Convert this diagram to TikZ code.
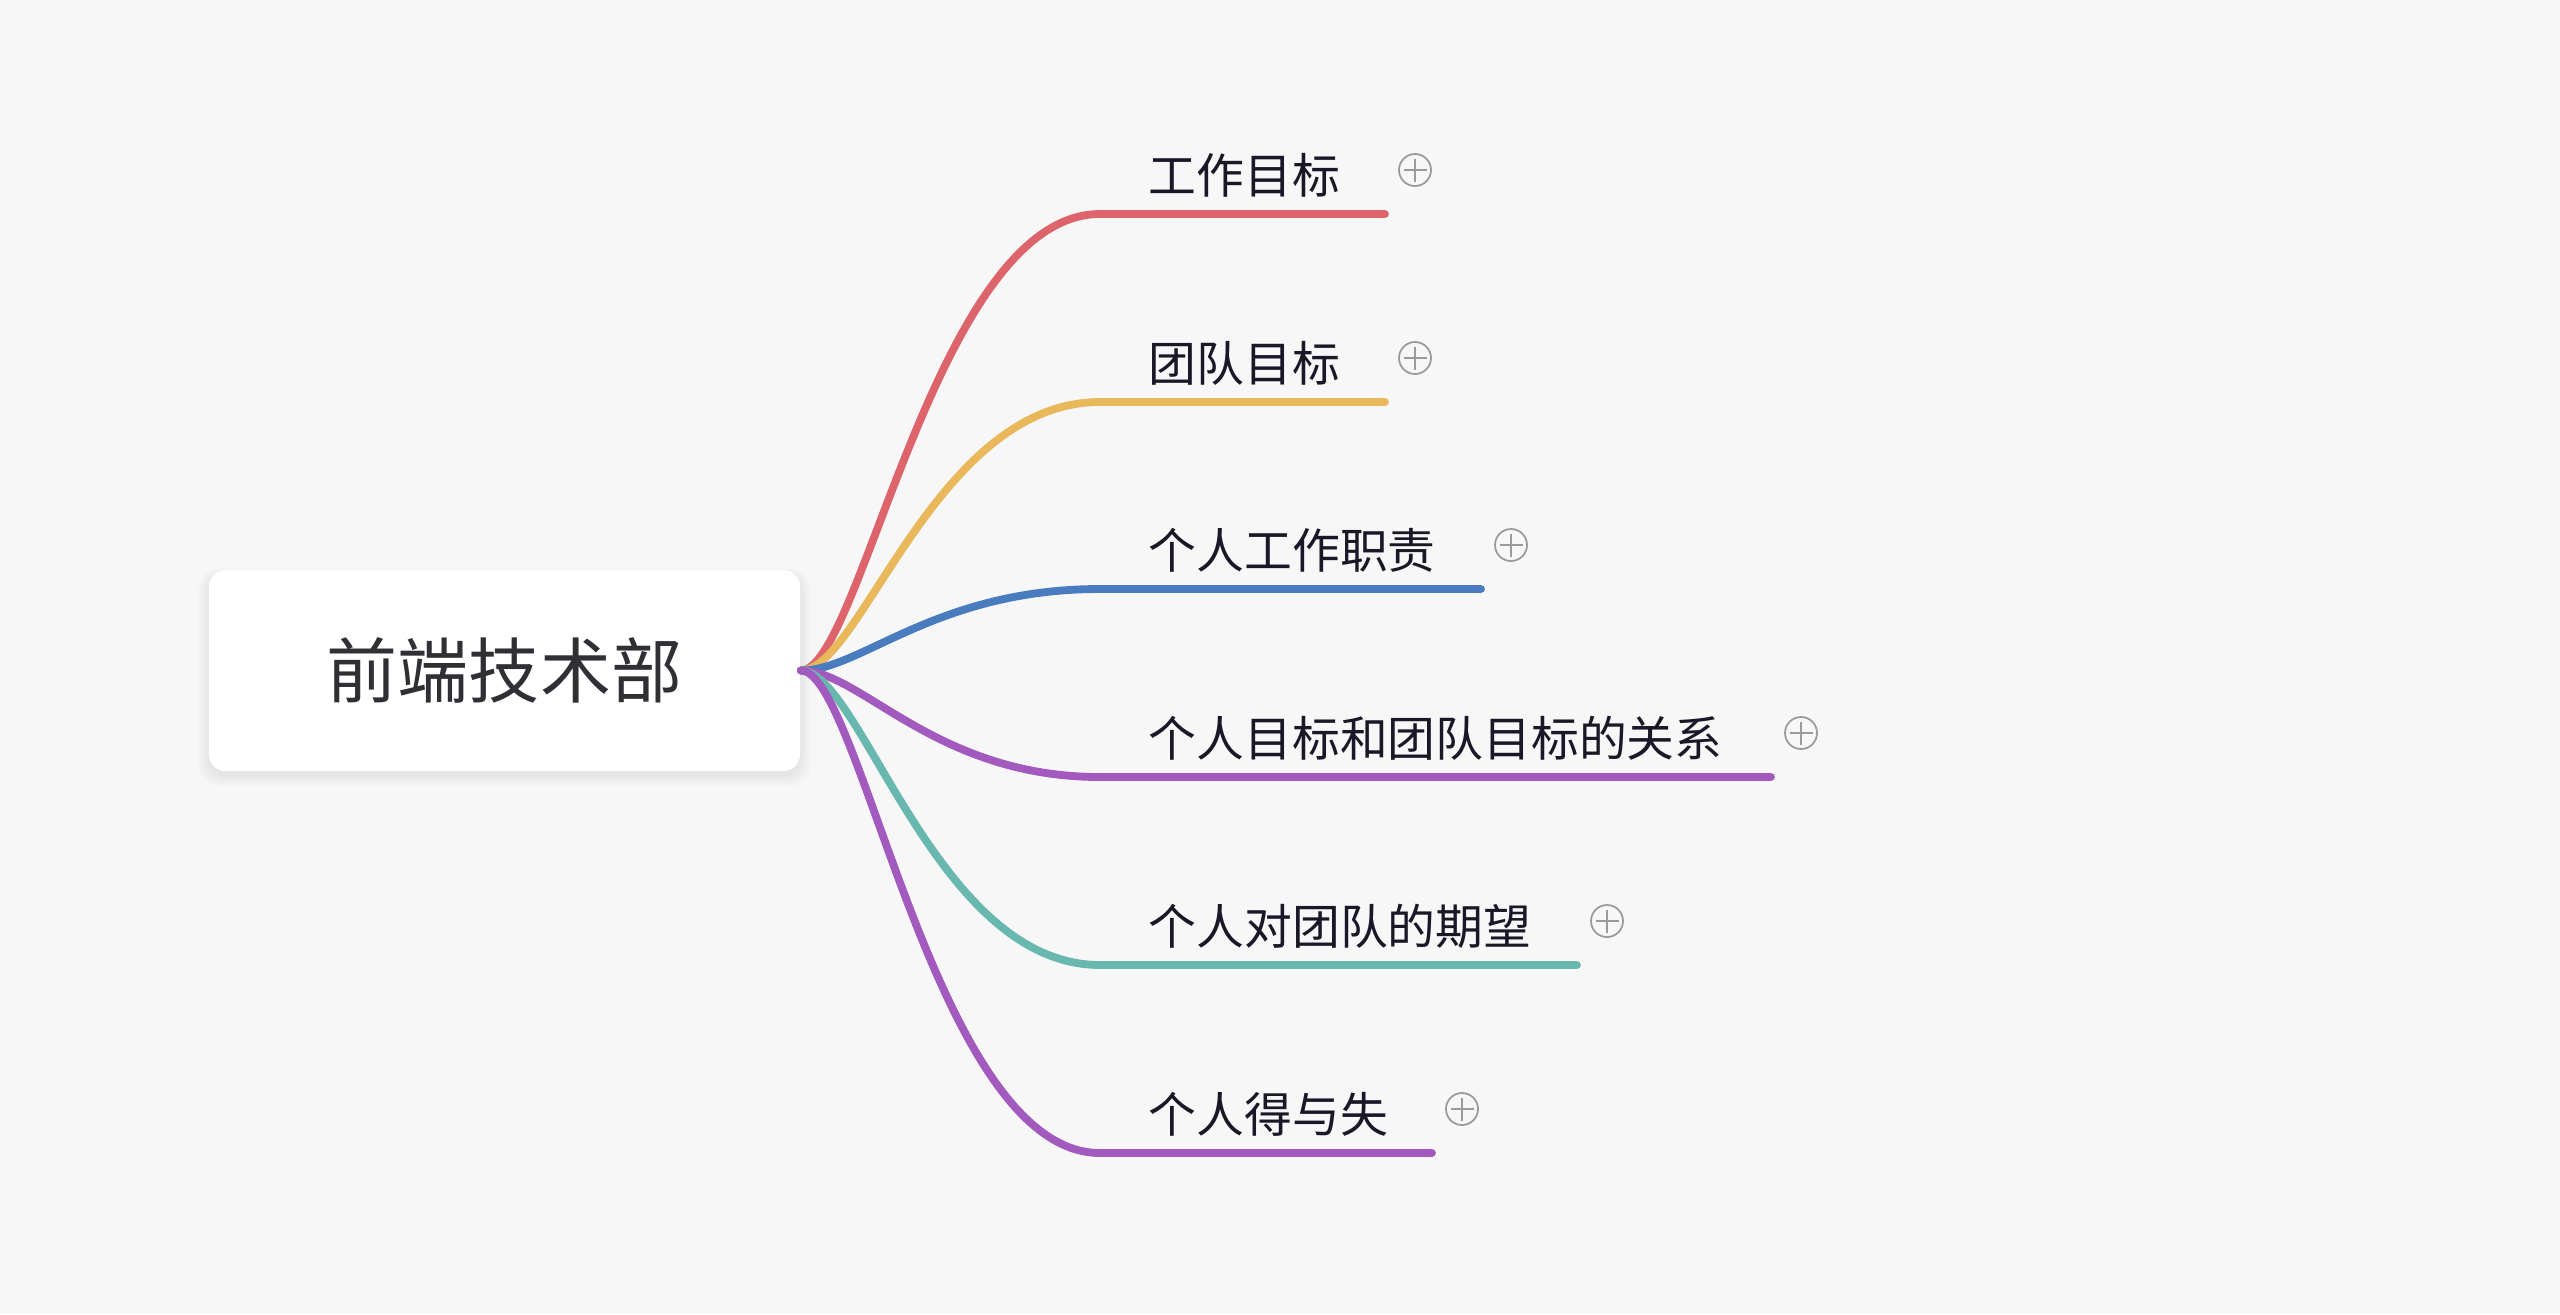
\documentclass[tikz,border=0pt]{standalone}
\usepackage{fontspec}
\newfontfamily\cjk{Noto Sans CJK SC}
\usetikzlibrary{calc}
\definecolor{bg}{RGB}{247,247,248}
\definecolor{cRed}{RGB}{220,100,106}
\definecolor{cYellow}{RGB}{232,184,90}
\definecolor{cBlue}{RGB}{72,124,190}
\definecolor{cPurple}{RGB}{162,90,190}
\definecolor{cTeal}{RGB}{105,184,176}
\definecolor{txt}{RGB}{24,24,38}
\definecolor{roottxt}{RGB}{48,48,52}
\definecolor{icongray}{RGB}{155,155,155}
\tikzset{
  rootbox/.style={rectangle, rounded corners=0.17cm, fill=white, minimum width=5.91cm, minimum height=2.01cm, inner sep=0pt, text=roottxt, font=\cjk\fontsize{20.2}{24}\selectfont},
  branch/.style={anchor=west, inner sep=0pt, text=txt, font=\cjk\fontsize{13.6}{16}\selectfont},
  conn/.style={line width=0.078cm, line cap=round},
  plusicon/.style={circle, draw=icongray, line width=0.5pt, minimum size=0.32cm, inner sep=0pt},
  iconline/.style={draw=icongray, line width=0.5pt}
}
\begin{document}
\begin{tikzpicture}[x=0.01cm,y=-0.01cm]
\fill[bg] (0,0) rectangle (2560,1314);
\useasboundingbox (0,0) rectangle (2560,1314);
% soft shadow of the root box
\foreach \s in {1,...,9}{
  \fill[black, opacity=0.007, rounded corners=0.2cm] (209-\s*1.2,574-\s*0.6) rectangle (800+\s*1.2,775+\s*1.3);
}
\node[rootbox] (root) at (504.5,670.5) {前端技术部};

% branch texts
\node[branch] (t1) at (1148,175) {工作目标};
\node[branch] (t2) at (1148,363) {团队目标};
\node[branch] (t3) at (1148,550) {个人工作职责};
\node[branch] (t4) at (1148,738) {个人目标和团队目标的关系};
\node[branch] (t5) at (1148,926) {个人对团队的期望};
\node[branch] (t6) at (1148,1114) {个人得与失};

% curve ends and underline ends
\coordinate (b1) at (1100,214);  \coordinate (u1) at (1385,214);
\coordinate (b2) at (1100,402);  \coordinate (u2) at (1385,402);
\coordinate (b3) at (1100,589);  \coordinate (u3) at (1481,589);
\coordinate (b4) at (1100,777);  \coordinate (u4) at (1771,777);
\coordinate (b5) at (1100,965);  \coordinate (u5) at (1577,965);
\coordinate (b6) at (1100,1153); \coordinate (u6) at (1432,1153);

\draw[conn, cRed]    (root.east) .. controls +(60,0) and +(-165,0) .. (b1) -- (u1);
\draw[conn, cYellow] (root.east) .. controls +(60,0) and +(-165,0) .. (b2) -- (u2);
\draw[conn, cBlue]   (root.east) .. controls +(60,0) and +(-165,0) .. (b3) -- (u3);
\draw[conn, cPurple] (root.east) .. controls +(60,0) and +(-165,0) .. (b4) -- (u4);
\draw[conn, cTeal]   (root.east) .. controls +(60,0) and +(-165,0) .. (b5) -- (u5);
\draw[conn, cPurple] (root.east) .. controls +(60,0) and +(-165,0) .. (b6) -- (u6);

% plus icons
\node[plusicon] (p1) at (1415,170) {};
\node[plusicon] (p2) at (1415,358) {};
\node[plusicon] (p3) at (1511,545) {};
\node[plusicon] (p4) at (1801,733) {};
\node[plusicon] (p5) at (1607,921) {};
\node[plusicon] (p6) at (1462,1109) {};
\foreach \p in {p1,p2,p3,p4,p5,p6}{
  \draw[iconline] ([xshift=-0.115cm]\p.center) -- ([xshift=0.115cm]\p.center);
  \draw[iconline] ([yshift=-0.115cm]\p.center) -- ([yshift=0.115cm]\p.center);
}
\end{tikzpicture}
\end{document}
